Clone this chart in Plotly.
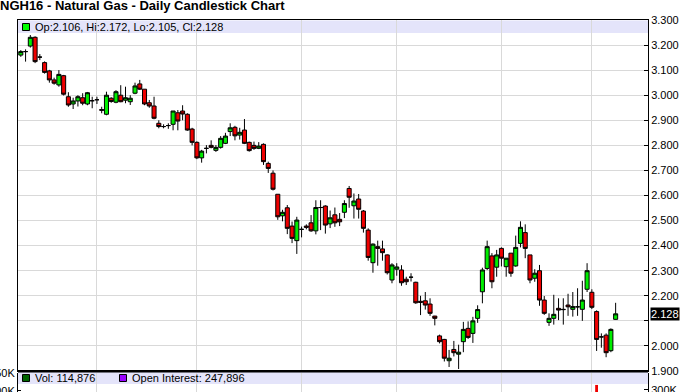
import plotly.graph_objects as go

# ---- data ----
opens = [3.160, 3.174, 3.196, 3.231, 3.152, 3.130, 3.097, 3.061, 3.041, 3.078,
         2.994, 2.965, 2.977, 2.990, 2.965, 2.978, 2.982, 2.943, 2.924, 2.988,
         2.972, 3.000, 2.980, 2.974, 3.008, 3.045, 3.024, 2.970, 2.957, 2.888,
         2.875, 2.879, 2.884, 2.930, 2.937, 2.924, 2.865, 2.812, 2.750, 2.788,
         2.800, 2.780, 2.792, 2.808, 2.855, 2.872, 2.841, 2.861, 2.812, 2.800,
         2.788, 2.804, 2.728, 2.689, 2.605, 2.519, 2.551, 2.478, 2.420, 2.465,
         2.478, 2.491, 2.459, 2.552, 2.558, 2.487, 2.523, 2.505, 2.533, 2.628,
         2.559, 2.586, 2.538, 2.462, 2.332, 2.396, 2.387, 2.363, 2.263, 2.306,
         2.303, 2.266, 2.274, 2.254, 2.178, 2.180, 2.167, 2.119, 2.040, 2.026,
         1.941, 1.986, 1.967, 2.017, 2.070, 2.050, 2.110, 2.216, 2.309, 2.359,
         2.314, 2.389, 2.316, 2.370, 2.319, 2.409, 2.452, 2.363, 2.270, 2.300,
         2.183, 2.094, 2.110, 2.150, 2.146, 2.163, 2.146, 2.156, 2.146, 2.226,
         2.214, 2.137, 2.036, 2.043, 1.981, 2.106]
highs = [3.180, 3.183, 3.240, 3.235, 3.164, 3.135, 3.101, 3.070, 3.100, 3.081,
         3.012, 2.990, 3.000, 3.008, 3.013, 2.994, 2.994, 2.954, 3.014, 2.992,
         3.020, 3.040, 3.034, 3.000, 3.050, 3.061, 3.024, 2.981, 2.994, 2.900,
         2.884, 2.888, 2.937, 2.941, 2.960, 2.928, 2.870, 2.816, 2.782, 2.801,
         2.820, 2.801, 2.837, 2.850, 2.888, 2.878, 2.870, 2.905, 2.815, 2.815,
         2.813, 2.808, 2.735, 2.700, 2.605, 2.543, 2.562, 2.496, 2.515, 2.476,
         2.485, 2.522, 2.581, 2.581, 2.561, 2.540, 2.552, 2.530, 2.581, 2.638,
         2.608, 2.606, 2.542, 2.469, 2.409, 2.420, 2.420, 2.365, 2.330, 2.330,
         2.322, 2.276, 2.290, 2.256, 2.200, 2.215, 2.190, 2.120, 2.045, 2.028,
         1.984, 2.020, 2.005, 2.096, 2.098, 2.116, 2.162, 2.312, 2.420, 2.370,
         2.383, 2.393, 2.350, 2.370, 2.440, 2.497, 2.485, 2.363, 2.306, 2.323,
         2.199, 2.130, 2.204, 2.190, 2.190, 2.208, 2.215, 2.230, 2.260, 2.330,
         2.226, 2.142, 2.050, 2.050, 2.070, 2.172]
lows = [3.153, 3.134, 3.190, 3.128, 3.140, 3.086, 3.050, 3.042, 3.034, 2.999,
        2.954, 2.945, 2.955, 2.960, 2.960, 2.948, 2.965, 2.928, 2.920, 2.970,
        2.968, 2.972, 2.968, 2.961, 3.004, 3.021, 2.960, 2.950, 2.904, 2.868,
        2.868, 2.866, 2.860, 2.860, 2.900, 2.858, 2.800, 2.745, 2.731, 2.768,
        2.788, 2.774, 2.787, 2.805, 2.837, 2.820, 2.823, 2.805, 2.775, 2.782,
        2.785, 2.722, 2.690, 2.620, 2.503, 2.497, 2.446, 2.410, 2.367, 2.433,
        2.465, 2.455, 2.445, 2.462, 2.448, 2.470, 2.475, 2.478, 2.510, 2.551,
        2.508, 2.508, 2.452, 2.340, 2.292, 2.320, 2.340, 2.285, 2.250, 2.280,
        2.240, 2.243, 2.257, 2.168, 2.123, 2.145, 2.120, 2.082, 2.010, 1.938,
        1.916, 1.958, 1.908, 1.975, 2.028, 2.012, 2.092, 2.170, 2.303, 2.230,
        2.276, 2.317, 2.276, 2.276, 2.316, 2.393, 2.350, 2.250, 2.256, 2.160,
        2.124, 2.080, 2.085, 2.103, 2.085, 2.120, 2.117, 2.120, 2.100, 2.215,
        2.147, 1.980, 1.993, 1.955, 1.975, 2.105]
closes = [3.174, 3.174, 3.231, 3.134, 3.152, 3.091, 3.061, 3.048, 3.083, 3.004,
          2.961, 2.977, 2.994, 2.968, 3.010, 2.978, 2.982, 2.940, 3.000, 2.975,
          3.014, 2.974, 2.990, 2.988, 3.037, 3.024, 2.965, 2.957, 2.908, 2.875,
          2.875, 2.879, 2.937, 2.897, 2.925, 2.861, 2.812, 2.750, 2.777, 2.788,
          2.792, 2.792, 2.828, 2.837, 2.870, 2.838, 2.852, 2.808, 2.779, 2.788,
          2.797, 2.735, 2.708, 2.625, 2.515, 2.533, 2.469, 2.429, 2.502, 2.465,
          2.473, 2.459, 2.552, 2.552, 2.482, 2.511, 2.491, 2.495, 2.568, 2.593,
          2.578, 2.545, 2.469, 2.353, 2.406, 2.389, 2.372, 2.292, 2.323, 2.315,
          2.252, 2.256, 2.274, 2.172, 2.174, 2.163, 2.130, 2.110, 2.017, 1.951,
          1.951, 1.973, 1.975, 2.066, 2.034, 2.100, 2.145, 2.303, 2.396, 2.256,
          2.363, 2.350, 2.350, 2.290, 2.393, 2.473, 2.389, 2.263, 2.290, 2.183,
          2.130, 2.110, 2.126, 2.143, 2.145, 2.156, 2.157, 2.156, 2.183, 2.300,
          2.154, 2.026, 2.036, 1.973, 2.066, 2.128]
days = list(range(len(closes)))
month_start_idx = [16, 37, 59, 79, 101, 120]

price_ticks = [1.9, 2.0, 2.1, 2.2, 2.3, 2.4, 2.5, 2.6, 2.7, 2.8, 2.9, 3.0, 3.1, 3.2, 3.3]
price_labels = ["1.900", "2.000", "", "2.200", "2.300", "2.400", "2.500", "2.600",
                "2.700", "2.800", "2.900", "3.000", "3.100", "3.200", "3.300"]

vol_days = [121, 125]
vol_values = [314000, 114876]
vol_ticks = [300000]
vol_labels = ["300K"]
oi_days = [125]
oi_values = [247896]
oi_ticks = [200000, 250000]
oi_labels = ["200K", "250K"]

TITLE = "NGH16 - Natural Gas - Daily Candlestick Chart"
GREEN = "#00ee00"
RED = "#ee0000"
GRID = "#d9d9d9"
BAND = "#e4e4fa"
FONT = "Liberation Sans"

W, H = 682, 392
ML, MR, MT, MB = 18, 34, 20, 0
PW, PH = W - ML - MR, H - MT - MB


def px(xp):
    return (xp - ML) / PW


def py(yp):
    return (H - MB - yp) / PH


fig = go.Figure()
fig.add_trace(go.Candlestick(
    x=days, open=opens, high=highs, low=lows, close=closes,
    increasing=dict(fillcolor=GREEN, line=dict(color="black", width=1)),
    decreasing=dict(fillcolor=RED, line=dict(color="black", width=1)),
    whiskerwidth=0, showlegend=False, hoverinfo="skip",
    xaxis="x", yaxis="y",
))
vol_colors = [GREEN if closes[d] >= opens[d] else RED for d in vol_days]
fig.add_trace(go.Bar(
    x=vol_days, y=vol_values, marker=dict(color=vol_colors, line=dict(width=0)),
    width=0.6, showlegend=False, hoverinfo="skip", xaxis="x2", yaxis="y2",
))
fig.add_trace(go.Scatter(
    x=oi_days, y=oi_values, mode="lines", line=dict(color="#9900ff"),
    showlegend=False, hoverinfo="skip", xaxis="x2", yaxis="y3",
))

xrange = [-0.59, 131.8]
price_bottom = py(371)
vol_top = py(373)

fig.update_layout(
    width=W, height=H,
    margin=dict(l=ML, r=MR, t=MT, b=MB, pad=0, autoexpand=False),
    paper_bgcolor="white", plot_bgcolor="white",
    font=dict(family=FONT, size=11, color="black"),
    boxgap=0.15, boxgroupgap=0,
    title=dict(text=TITLE, x=0.0, xref="container", xanchor="left",
               y=1 - 1.0 / H, yref="container", yanchor="top",
               font=dict(family=FONT, size=13, color="black", weight="bold")),
    xaxis=dict(domain=[0, 1], range=xrange, anchor="y", automargin=False,
               tickvals=month_start_idx, showticklabels=False, ticks="",
               showgrid=True, gridcolor=GRID, gridwidth=1, zeroline=False,
               showline=True, linecolor="black", linewidth=1, mirror=True,
               rangeslider=dict(visible=False)),
    yaxis=dict(domain=[price_bottom, 1], range=[1.9, 3.3], side="right",
               anchor="x", automargin=False, ticklabeloverflow="allow",
               tickvals=price_ticks, ticktext=price_labels,
               ticks="inside", ticklen=4, tickcolor="black",
               showgrid=True, gridcolor=GRID, zeroline=False,
               showline=True, linecolor="black", linewidth=1, mirror=True,
               tickfont=dict(family=FONT, size=11, color="black")),
    xaxis2=dict(domain=[0, 1], range=xrange, anchor="y2", matches="x",
                automargin=False,
                tickvals=month_start_idx, showticklabels=False, ticks="",
                showgrid=True, gridcolor=GRID, zeroline=False, showline=False,
                rangeslider=dict(visible=False)),
    yaxis2=dict(domain=[0, vol_top], range=[294400, 347200], side="right",
                anchor="x2", automargin=False, ticklabeloverflow="allow",
                tickvals=vol_ticks, ticktext=vol_labels,
                ticks="inside", ticklen=4, tickcolor="black",
                showgrid=False, zeroline=False, showline=True,
                linecolor="black", linewidth=1,
                tickfont=dict(family=FONT, size=11, color="black")),
    yaxis3=dict(range=[197100, 251400], side="left", overlaying="y2",
                anchor="x2", automargin=False, ticklabeloverflow="allow",
                tickvals=oi_ticks, ticktext=oi_labels,
                ticks="inside", ticklen=3, tickcolor="black",
                showgrid=False, zeroline=False, showline=True,
                linecolor="black", linewidth=1,
                tickfont=dict(family=FONT, size=11, color="black")),
    shapes=[
        dict(type="rect", xref="paper", yref="paper", x0=0, x1=1,
             y0=py(33), y1=py(20.5), fillcolor=BAND, line=dict(width=0),
             layer="below"),
        dict(type="rect", xref="paper", yref="paper", x0=0, x1=1,
             y0=py(384), y1=py(372), fillcolor=BAND, line=dict(width=0),
             layer="below"),
        dict(type="line", xref="paper", yref="paper", x0=0, x1=1,
             y0=py(371.2), y1=py(371.2), line=dict(color="black", width=2.5)),
        dict(type="rect", xref="paper", yref="paper", x0=px(22.5), x1=px(29.5),
             y0=py(30.5), y1=py(23.5), fillcolor="#00ff00",
             line=dict(color="black", width=1)),
        dict(type="rect", xref="paper", yref="paper", x0=px(22.5), x1=px(29.5),
             y0=py(381.5), y1=py(374.5), fillcolor="#006400",
             line=dict(color="black", width=1)),
        dict(type="rect", xref="paper", yref="paper", x0=px(119.5), x1=px(126.5),
             y0=py(381.5), y1=py(374.5), fillcolor="#9900ff",
             line=dict(color="black", width=1)),
    ],
    annotations=[
        dict(xref="paper", yref="paper", x=px(33), y=py(27), xanchor="left",
             yanchor="middle", showarrow=False,
             text=f"Op:{opens[-1]:.3f}, Hi:{highs[-1]:.3f}, Lo:{lows[-1]:.3f}, Cl:{closes[-1]:.3f}",
             font=dict(family=FONT, size=11, color="black")),
        dict(xref="paper", yref="paper", x=px(33), y=py(378), xanchor="left",
             yanchor="middle", showarrow=False,
             text=f"Vol: {vol_values[-1]:,}",
             font=dict(family=FONT, size=11, color="black")),
        dict(xref="paper", yref="paper", x=px(130), y=py(378), xanchor="left",
             yanchor="middle", showarrow=False,
             text=f"Open Interest: {oi_values[-1]:,}",
             font=dict(family=FONT, size=11, color="black")),
        dict(xref="paper", yref="y", x=1, y=closes[-1], xanchor="left",
             yanchor="middle", xshift=2, showarrow=False,
             text=f"{closes[-1]:.3f}", bgcolor="black", borderpad=0,
             font=dict(family=FONT, size=11, color="white")),
    ],
)

fig.write_html("out.html",
               config={"displayModeBar": False},
               post_script="document.body.style.margin='0px';"
                           "document.body.style.overflow='hidden';")
